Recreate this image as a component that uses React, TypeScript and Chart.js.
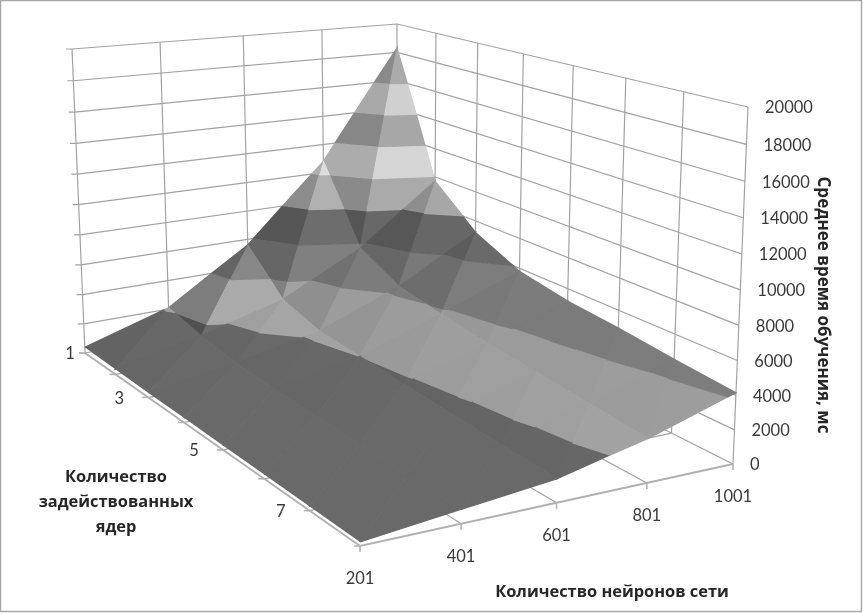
import React, { useEffect, useRef } from "react";
import { Chart, registerables } from "chart.js";

Chart.register(...registerables);

const neurons = [201, 401, 601, 801, 1001];
const coreSeries = [1, 2, 3, 4, 5, 6, 7, 8];
const neuronLabels = ["201", "401", "601", "801", "1001"];
const coreLabels = ["1", "", "3", "", "5", "", "7", ""];
const timeTicks = [0, 2000, 4000, 6000, 8000, 10000, 12000, 14000, 16000, 18000, 20000];
const timeCore1 = [400, 2100, 5600, 10800, 18300];
const timeCore2 = [350, 1500, 3000, 5700, 9700];
const timeCore3 = [300, 1100, 2200, 4300, 7200];
const timeCore4 = [280, 950, 2000, 3800, 5800];
const timeCore5 = [260, 900, 1800, 3400, 5200];
const timeCore6 = [240, 850, 1600, 3100, 4900];
const timeCore7 = [220, 800, 1450, 2800, 4500];
const timeCore8 = [200, 750, 1300, 2500, 4150];
const timeRows = [timeCore1, timeCore2, timeCore3, timeCore4, timeCore5, timeCore6, timeCore7, timeCore8];

const bandGray = [0x6a, 0xa6, 0x84, 0x70, 0xb6, 0xe4, 0xb3, 0xdf, 0xb6, 0xb6];

type P = { x: number; y: number };
type V = { i: number; j: number; z: number };

// perspective spacing of the grid along each floor direction
const neuronSpacing = [0, 0.271, 0.527, 0.769, 1];
const coreSpacing = [0, 0.111, 0.23, 0.36, 0.502, 0.652, 0.817, 1];

function spaced(list: number[], t: number) {
  const k = Math.min(list.length - 2, Math.floor(t));
  return list[k] + (list[k + 1] - list[k]) * (t - k);
}

function makeMap(q: number[][]) {
  const [a, d, c, b] = q;
  return (u: number, v: number): P => ({
    x: (1 - v) * ((1 - u) * a[0] + u * d[0]) + v * ((1 - u) * b[0] + u * c[0]),
    y: (1 - v) * ((1 - u) * a[1] + u * d[1]) + v * ((1 - u) * b[1] + u * c[1]),
  });
}

const floorMap = makeMap([[85, 353], [397, 295], [733, 464], [360, 546]]);
const topMap = makeMap([[72, 49], [397, 24], [748, 107], [357, 126]]);
const nI = neurons.length - 1;
const nJ = coreSeries.length - 1;
const zMax = timeTicks[timeTicks.length - 1];

function project(i: number, j: number, z: number): P {
  const u = spaced(neuronSpacing, i), v = spaced(coreSpacing, j), w = z / zMax;
  const f = w / (w + 1.05 * (1 - w));
  const a = floorMap(u, v), b = topMap(u, v);
  return { x: a.x + (b.x - a.x) * f, y: a.y + (b.y - a.y) * f };
}

function clip(poly: V[], limit: number, keepAbove: boolean): V[] {
  const out: V[] = [];
  for (let k = 0; k < poly.length; k++) {
    const a = poly[k], b = poly[(k + 1) % poly.length];
    const ina = keepAbove ? a.z >= limit : a.z <= limit;
    const inb = keepAbove ? b.z >= limit : b.z <= limit;
    if (ina) out.push(a);
    if (ina !== inb) {
      const t = (limit - a.z) / (b.z - a.z);
      out.push({ i: a.i + (b.i - a.i) * t, j: a.j + (b.j - a.j) * t, z: limit });
    }
  }
  return out;
}

function facetFactor(t: V[]): number {
  const pt = (p: V) => [p.i / nI, p.j / nJ, p.z / zMax];
  const [a, b, c] = t.map(pt);
  const e = [b[0] - a[0], b[1] - a[1], b[2] - a[2]];
  const f = [c[0] - a[0], c[1] - a[1], c[2] - a[2]];
  let n = [e[1] * f[2] - e[2] * f[1], e[2] * f[0] - e[0] * f[2], e[0] * f[1] - e[1] * f[0]];
  if (n[2] < 0) n = n.map((q) => -q);
  const len = Math.hypot(n[0], n[1], n[2]);
  const dot = (n[0] * 0.6 + n[1] * 0.5 + n[2] * 0.6) / len;
  const slope = Math.hypot(n[0], n[1]) / n[2];
  const blend = Math.min(1, slope / 0.7);
  return 1 + (0.6 + 0.67 * dot - 1) * blend;
}

function lineSet(pts: P[], color: string, width: number) {
  return { type: "scatter", data: pts, showLine: true, borderColor: color, borderWidth: width, pointRadius: 0, fill: false, tension: 0 };
}

function buildDatasets() {
  const sets: any[] = [];
  const grid = "#a2a2a2";
  for (const z of timeTicks) {
    sets.push(lineSet([{ x: project(0, 0, z).x - 6, y: project(0, 0, z).y }, project(0, 0, z), project(nI, 0, z), project(nI, nJ, z)], grid, 1.2));
  }
  for (let i = 0; i <= nI; i++) sets.push(lineSet([project(i, 0, 0), project(i, 0, zMax)], grid, 1.2));
  for (let j = 1; j <= nJ; j++) sets.push(lineSet([project(nI, j, 0), project(nI, j, zMax)], grid, 1.2));
  for (let i = 1; i < nI; i++) sets.push(lineSet([project(i, 0, 0), project(i, nJ, 0)], grid, 1.2));
  for (let j = 1; j < nJ; j++) sets.push(lineSet([project(0, j, 0), project(nI, j, 0)], grid, 1.2));
  const axis = "#b0b0b0";
  sets.push(lineSet([project(0, 0, 0), project(0, nJ, 0), project(nI, nJ, 0)], axis, 2));
  for (let i = 0; i <= nI; i++) {
    const p = project(i, nJ, 0);
    sets.push(lineSet([p, { x: p.x, y: p.y + 6 }], axis, 1.5));
  }
  for (let j = 0; j <= nJ; j++) {
    const p = project(0, j, 0);
    sets.push(lineSet([p, { x: p.x - 6, y: p.y }], axis, 1.5));
  }

  for (let j = 0; j < nJ; j++) {
    for (let i = nI - 1; i >= 0; i--) {
      const vtx = (a: number, b: number): V => ({ i: a, j: b, z: timeRows[b][a] });
      const tris: V[][] = [
        [vtx(i, j), vtx(i + 1, j), vtx(i, j + 1)],
        [vtx(i + 1, j), vtx(i + 1, j + 1), vtx(i, j + 1)],
      ];
      for (const t of tris) {
        const factor = facetFactor(t);
        for (let b = 0; b < timeTicks.length - 1; b++) {
          let poly = clip(t, timeTicks[b], true);
          if (poly.length) poly = clip(poly, timeTicks[b + 1], false);
          if (poly.length < 3) continue;
          const g = Math.round(Math.min(255, bandGray[b] * factor));
          const c = `rgb(${g},${g},${g})`;
          sets.push({
            type: "scatter",
            data: poly.map((p) => project(p.i, p.j, p.z)),
            showLine: true,
            fill: "shape",
            backgroundColor: c,
            borderColor: c,
            borderWidth: 1.2,
            pointRadius: 0,
            tension: 0,
          });
        }
      }
    }
  }
  return sets.reverse();
}

const DIGITS = '16.5px Lato, "Open Sans", sans-serif';
const BOLD = 'bold 16.4px "Open Sans", "Noto Sans", sans-serif';
const BOLD_Z = 'bold 17px "Open Sans", "Noto Sans", sans-serif';

const textPlugin = {
  id: "boxText",
  afterDraw(chart: any) {
    const { ctx } = chart;
    ctx.save();
    ctx.strokeStyle = "#a8a8a8";
    ctx.lineWidth = 1.5;
    ctx.strokeRect(0.5, 0.5, 861, 611);
    ctx.fillStyle = "#3a3a3a";
    ctx.textBaseline = "middle";
    ctx.font = DIGITS;
    ctx.textAlign = "left";
    timeTicks.forEach((z) => {
      const p = project(nI, nJ, z);
      ctx.fillText(String(z), p.x + 17, p.y + 1);
    });
    ctx.textAlign = "center";
    neuronLabels.forEach((s, i) => {
      const p = project(i, nJ, 0);
      ctx.fillText(s, p.x, p.y + 33);
    });
    coreLabels.forEach((s, j) => {
      if (!s) return;
      const p = project(0, j, 0);
      ctx.fillText(s, p.x - (j === 0 ? 15 : 29), p.y + 1);
    });
    ctx.fillStyle = "#262626";
    ctx.font = BOLD;
    ctx.fillText("Количество", 116, 477);
    ctx.fillText("задействованных", 116, 502);
    ctx.fillText("ядер", 116, 527);
    ctx.fillText("Количество нейронов сети", 612, 592);
    ctx.font = BOLD_Z;
    ctx.translate(823, 305);
    ctx.rotate(Math.PI / 2);
    ctx.fillText("Среднее время обучения, мс", 0, 0);
    ctx.restore();
  },
};

export default function App() {
  const ref = useRef<HTMLCanvasElement>(null);
  useEffect(() => {
    document.body.style.margin = "0";
    const chart = new Chart(ref.current!, {
      type: "scatter",
      data: { datasets: buildDatasets() as any },
      options: {
        animation: false,
        responsive: false,
        layout: { padding: 0 },
        scales: {
          x: { type: "linear", min: 0, max: 863, display: false },
          y: { type: "linear", min: 0, max: 614, reverse: true, display: false },
        },
        plugins: { legend: { display: false }, tooltip: { enabled: false } },
      },
      plugins: [textPlugin as any],
    });
    return () => chart.destroy();
  }, []);
  return (
    <canvas
      ref={ref}
      width={863}
      height={614}
      style={{ display: "block", width: 863, height: 614, background: "#fff" }}
    />
  );
}
